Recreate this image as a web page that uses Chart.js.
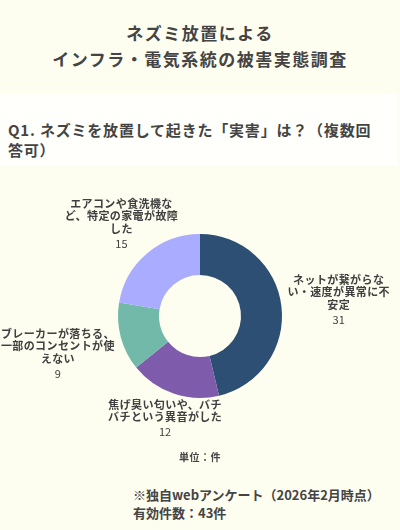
<!DOCTYPE html>
<html lang="ja">
<head>
<meta charset="utf-8">
<title>ネズミ放置によるインフラ・電気系統の被害実態調査</title>
<script src="https://cdn.jsdelivr.net/npm/chart.js@4.4.1/dist/chart.umd.min.js"></script>
<style>
    html, body {
        margin: 0;
        padding: 0;
    }
    body {
        width: 400px;
        height: 530px;
        position: relative;
        overflow: hidden;
        background: #fdfdf0;
        color: #444;
        font-family: "Noto Sans CJK JP", "Noto Sans", sans-serif;
    }
    .title {
        position: absolute;
        top: 20px;
        left: 0;
        width: 400px;
        text-align: center;
        font-size: 17px;
        font-weight: bold;
        line-height: 26px;
        letter-spacing: 1.5px;
    }
    .panel {
        position: absolute;
        top: 93px;
        left: 0;
        width: 397px;
        height: 72px;
        background: #fffffb;
    }
    .question {
        position: absolute;
        top: 120px;
        left: 8px;
        font-size: 15px;
        font-weight: bold;
        line-height: 20px;
        letter-spacing: 0.8px;
        white-space: nowrap;
    }
    .graph {
        position: absolute;
        top: 170px;
        left: 0;
        width: 400px;
        height: 300px;
    }
    .unit {
        position: absolute;
        top: 449px;
        left: 0;
        width: 400px;
        text-align: center;
        font-size: 10px;
        font-weight: bold;
        letter-spacing: 0.5px;
    }
    .note {
        position: absolute;
        top: 486px;
        left: 133px;
        font-size: 13px;
        font-weight: bold;
        line-height: 18px;
        white-space: nowrap;
    }
</style>
</head>
<body>
<div class="title">ネズミ放置による<br>インフラ・電気系統の被害実態調査</div>
<div class="panel"></div>
<div class="question">Q1. ネズミを放置して起きた「実害」は？（複数回<br>答可）</div>
<div class="graph"><canvas id="damage--chart"></canvas></div>
<div class="unit">単位：件</div>
<div class="note">※独自webアンケート（2026年2月時点）<br>有効件数：43件</div>

<script>
"use strict";

// categories, pre-wrapped the way the reference shows them
const categories = [
    ['ネットが繋がらな', 'い・速度が異常に不', '安定'],
    ['焦げ臭い匂いや、バチ', 'バチという異音がした'],
    ['ブレーカーが落ちる、', '一部のコンセントが使', 'えない'],
    ['エアコンや食洗機な', 'ど、特定の家電が故障', 'した']
];
const counts = [31, 12, 9, 15];
const sliceColors = ['#2d4f73', '#7e5bab', '#72b9a9', '#a9acff'];

const textColor = '#404040';

// draws each category name + value outside its slice
const outerLabels = {
    id: 'outerLabels',
    afterDraw(chart) {
        const ctx = chart.ctx;
        const meta = chart.getDatasetMeta(0);
        const lineH = 12.5;
        const valueGap = 15;
        const textH = 11;

        ctx.save();
        ctx.fillStyle = textColor;
        ctx.textAlign = 'center';
        ctx.textBaseline = 'middle';

        meta.data.forEach((arc, i) => {
            const p = arc.getProps(['x', 'y', 'startAngle', 'endAngle', 'outerRadius'], true);
            const mid = (p.startAngle + p.endAngle) / 2;
            const vx = Math.cos(mid);
            const vy = Math.sin(mid);
            const lines = chart.data.labels[i];

            ctx.font = 'bold 11px "Noto Sans CJK JP"';
            ctx.letterSpacing = '0.4px';
            const w = Math.max(...lines.map(l => ctx.measureText(l).width));
            const h = (lines.length - 1) * lineH + valueGap + textH;

            // push the box out along the ray until its edge sits at the anchor
            const dx = Math.abs(vx) > 1e-6 ? Math.abs(w / 2 / vx) : Infinity;
            const dy = Math.abs(vy) > 1e-6 ? Math.abs(h / 2 / vy) : Infinity;
            const dist = p.outerRadius + 6 + Math.min(dx, dy);
            const cx = p.x + vx * dist;
            const cy = p.y + vy * dist;

            let y = cy - h / 2 + textH / 2;
            lines.forEach(line => {
                ctx.fillText(line, cx, y);
                y += lineH;
            });

            y += valueGap - lineH;
            ctx.font = '11px "Noto Sans CJK JP"';
            ctx.letterSpacing = '0px';
            ctx.fillText(String(chart.data.datasets[0].data[i]), cx, y);
        });
        ctx.restore();
    }
};

const ctx = document.getElementById('damage--chart').getContext('2d');

new Chart(ctx, {
    type: 'doughnut',
    data: {
        labels: categories,
        datasets: [{
            data: counts,
            backgroundColor: sliceColors,
            borderWidth: 0
        }]
    },
    options: {
        responsive: true,
        maintainAspectRatio: false,
        animation: false,
        cutout: '50%',
        layout: {
            padding: { top: 64, bottom: 72, left: 118, right: 118 }
        },
        plugins: {
            legend: { display: false },
            tooltip: { enabled: false }
        }
    },
    plugins: [outerLabels]
});
</script>
</body>
</html>
